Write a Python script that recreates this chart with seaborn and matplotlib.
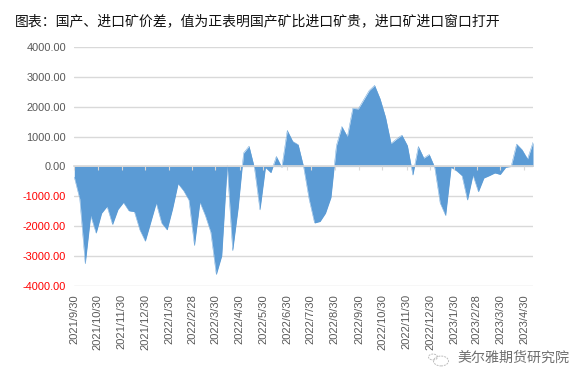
import matplotlib
matplotlib.use("Agg")
import matplotlib.pyplot as plt
from matplotlib.patches import Circle
import pandas as pd
import seaborn as sns

title = "图表\uff1a国产、进口矿价差\uff0c值为正表明国产矿比进口矿贵\uff0c进口矿进口窗口打开"
watermark = "美尔雅期货研究院"

start_date = "2021-09-30"
spread = [
    -360, -1090, -3270, -1650, -2240, -1570, -1340, -1950, -1445, -1210,
    -1490, -1520, -2130, -2510, -1870, -1230, -1900, -2130, -1420, -580,
    -810, -1130, -2660, -1200, -1650, -2210, -3630, -3000, 40, -2830,
    -1400, 450, 680, -60, -1460, -40, -210, 335, -30, 1210,
    840, 730, -20, -1100, -1900, -1850, -1570, -1040, 700, 1340,
    1000, 1950, 1930, 2240, 2550, 2720, 2270, 1650, 770, 920,
    1050, 700, -290, 670, 280, 400, -30, -1230, -1650, -30,
    -150, -310, -1130, -290, -850, -390, -310, -220, -270, -30,
    0, 750, 560, 250, 810,
]
tick_dates = [
    "2021-09-30", "2021-10-30", "2021-11-30", "2021-12-30", "2022-01-30",
    "2022-02-28", "2022-03-30", "2022-04-30", "2022-05-30", "2022-06-30",
    "2022-07-30", "2022-08-30", "2022-09-30", "2022-10-30", "2022-11-30",
    "2022-12-30", "2023-01-30", "2023-02-28", "2023-03-30", "2023-04-30",
]
tick_labels = [
    "2021/9/30", "2021/10/30", "2021/11/30", "2021/12/30", "2022/1/30",
    "2022/2/28", "2022/3/30", "2022/4/30", "2022/5/30", "2022/6/30",
    "2022/7/30", "2022/8/30", "2022/9/30", "2022/10/30", "2022/11/30",
    "2022/12/30", "2023/1/30", "2023/2/28", "2023/3/30", "2023/4/30",
]
y_ticks = [4000, 3000, 2000, 1000, 0, -1000, -2000, -3000, -4000]

sns.set_theme(style="white")
plt.rcParams["font.family"] = ["Liberation Sans", "Noto Sans CJK SC", "DejaVu Sans"]

W, H = 587, 385
fig = plt.figure(figsize=(W / 100, H / 100), dpi=100, facecolor="white")
ax = fig.add_axes([74.3 / W, 1 - 285.5 / H, (533 - 74.3) / W, (285.5 - 47.3) / H])

df = pd.DataFrame({
    "date": pd.date_range(start_date, periods=len(spread), freq="7D"),
    "spread": spread,
})
BLUE = "#5B9BD5"
ax.fill_between(df["date"], df["spread"], 0, color=BLUE, linewidth=0, zorder=3)
sns.lineplot(data=df, x="date", y="spread", ax=ax, color=BLUE, linewidth=0.3, zorder=3)

ax.set_xlim(df["date"].iloc[0], df["date"].iloc[-1])
ax.set_ylim(-4000, 4000)
ax.set_xlabel("")
ax.set_ylabel("")

ax.set_yticks(y_ticks)
ax.set_yticklabels([f"{v:.2f}" for v in y_ticks], fontsize=7.9)
for lab, v in zip(ax.get_yticklabels(), y_ticks):
    lab.set_color("#FF0000" if v < 0 else "#595959")
ax.tick_params(axis="y", length=0, pad=6)
ax.yaxis.grid(True, color="#D9D9D9", linewidth=1)
ax.xaxis.grid(False)

ax.set_xticks(pd.to_datetime(tick_dates))
ax.set_xticklabels(tick_labels)
ax.tick_params(axis="x", direction="out", length=3, width=0.8, color="#D9D9D9", pad=89, bottom=True,
               labelrotation=90, labelsize=8, labelcolor="#595959")
for lab in ax.get_xticklabels():
    lab.set_verticalalignment("top")
    lab.set_horizontalalignment("center")
    lab.set_rotation(90)
    lab.set_rotation_mode("default")

for s in ("top", "right", "left"):
    ax.spines[s].set_visible(False)
ax.spines["bottom"].set_position(("data", 0))
ax.spines["bottom"].set_color("#D9D9D9")
ax.spines["bottom"].set_linewidth(1.2)
ax.spines["bottom"].set_zorder(6)
ax.set_axisbelow(True)
ax.xaxis.set_zorder(6)

fig.text(15 / W, 1 - 21 / H, title, fontsize=10, color="#111111", va="center", ha="left",
         family=["Noto Sans CJK SC", "DejaVu Sans"])
fig.text(457 / W, 1 - 358 / H, watermark, fontsize=10.1, color="#6E6E6E", va="center", ha="left",
         family=["Noto Sans CJK SC", "DejaVu Sans"])

for cx, cy, r in ((441, 361, 7.5), (433, 357, 4.5)):
    fig.add_artist(Circle((cx / W, 1 - cy / H), r / W, transform=fig.transFigure, fill=False,
                          edgecolor="#BDBDBD", linewidth=0.7, linestyle=(0, (2, 1))))

fig.savefig("out.png", dpi=100)
